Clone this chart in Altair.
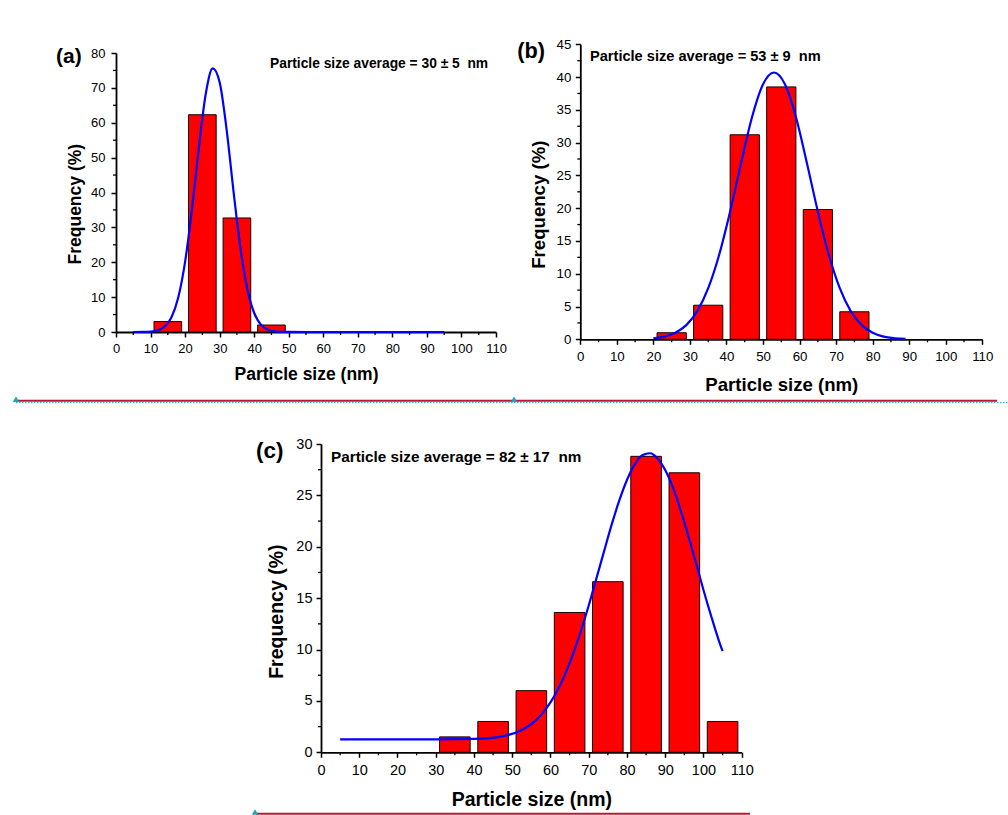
import altair as alt
import pandas as pd

FONT = "Liberation Sans"
W, H = 1008, 815

# ---------------- data ----------------
x_ticks = [0, 10, 20, 30, 40, 50, 60, 70, 80, 90, 100, 110]

# Panel (a)
a_centers = [15, 25, 35, 45]
a_freq = [3.0, 62.3, 32.7, 2.0]
a_fit_x = [5, 8, 10, 12, 14, 16, 18, 20, 22, 24, 26, 28, 30, 32, 34, 36, 38, 40, 42, 44, 46, 48, 50, 60, 70, 80, 95]
a_fit_y = [0.0, 0.03, 0.12, 0.46, 1.5, 4.1, 9.8, 20.1, 35.3, 53.0, 68.4, 75.6, 71.6, 58.2, 40.5, 24.2,
           12.4, 5.45, 2.05, 0.66, 0.18, 0.05, 0.01, 0.0, 0.0, 0.0, 0.0]
a_y_ticks = [0, 10, 20, 30, 40, 50, 60, 70, 80]

# Panel (b)
b_centers = [25, 35, 45, 55, 65, 75]
b_freq = [1.0, 5.2, 31.2, 38.5, 19.8, 4.2]
b_fit_x = [20, 23, 26, 29, 32, 35, 38, 41, 44, 47, 50, 53, 56, 59, 62, 65, 68, 71, 74, 77, 80, 83, 86, 89]
b_fit_y = [0.16, 0.41, 0.99, 2.16, 4.29, 7.8, 12.9, 19.5, 26.9, 33.9, 38.9, 40.7, 38.9, 33.9, 26.9, 19.5,
           12.9, 7.8, 4.29, 2.16, 0.99, 0.41, 0.16, 0.05]
b_y_ticks = [0, 5, 10, 15, 20, 25, 30, 35, 40, 45]

# Panel (c)
c_centers = [35, 45, 55, 65, 75, 85, 95, 105]
c_freq = [1.5, 3.0, 6.0, 13.6, 16.6, 28.8, 27.2, 3.0]
c_fit_x = [5, 10, 20, 30, 40, 44, 48, 52, 56, 58, 60, 62, 64, 66, 68, 70, 72, 74, 76, 78, 80, 82, 84,
           86, 88, 90, 92, 94, 96, 98, 100, 102, 104, 105]
c_fit_y = [1.26, 1.26, 1.26, 1.26, 1.30, 1.38, 1.60, 2.08, 3.06, 3.84, 4.85, 6.15, 7.75, 9.65, 11.85,
           14.28, 16.9, 19.55, 22.15, 24.51, 26.5, 28.0, 28.9, 29.1, 28.6, 27.47, 25.8, 23.6, 21.1,
           18.5, 15.8, 13.28, 10.9, 9.85]
c_y_ticks = [0, 5, 10, 15, 20, 25, 30]

labels = ["(a)", "(b)", "(c)"]
notes = ["Particle size average = 30 \u00b1 5 \u00a0nm",
         "Particle size average = 53 \u00b1 9 \u00a0nm",
         "Particle size average = 82 \u00b1 17 \u00a0nm"]

BAR_HALF = 4


def one_row():
    return pd.DataFrame({"k": [0]})


def panel(centers, freq, fit_x, fit_y, y_ticks, box, s, xtitle_y, ytitle_xy, ylab_pad, xlab_pad):
    """box = (left, right, bottom, top) of the plot area in page pixels."""
    left, right, bottom, top = box
    bars = pd.DataFrame({"x0": [c - BAR_HALF for c in centers],
                         "x1": [c + BAR_HALF for c in centers],
                         "f": freq,
                         "b": [0] * len(freq)})
    fit = pd.DataFrame({"x": fit_x, "y": fit_y})
    step_y = y_ticks[1] - y_ticks[0]
    x_minor = [v + 5 for v in x_ticks[:-1]]
    y_minor = [v + step_y / 2 for v in y_ticks[:-1]]

    xs = alt.Scale(domain=[0, 110], nice=False, zero=False, range=[left, right])
    ys = alt.Scale(domain=[0, y_ticks[-1]], nice=False, zero=False, range=[bottom, top])

    tick_fs, title_fs = s
    xaxis = alt.Axis(values=x_ticks, title="Particle size (nm)", grid=False, orient="bottom",
                     offset=bottom - H,
                     labelFont=FONT, labelFontSize=tick_fs, labelColor="black",
                     labelFlush=False, labelOverlap=False, labelPadding=xlab_pad,
                     tickSize=5, tickWidth=1.5, tickColor="black",
                     domainColor="black", domainWidth=1.8,
                     titleFont=FONT, titleFontSize=title_fs, titleFontWeight="bold",
                     titleColor="black", titleY=xtitle_y, titleBaseline="middle")
    yaxis = alt.Axis(values=y_ticks, title="Frequency (%)", grid=False, orient="left",
                     offset=-left,
                     labelFont=FONT, labelFontSize=tick_fs, labelColor="black",
                     labelFlush=False, labelOverlap=False, labelPadding=ylab_pad,
                     tickSize=5, tickWidth=1.5, tickColor="black",
                     domainColor="black", domainWidth=1.8,
                     titleFont=FONT, titleFontSize=title_fs, titleFontWeight="bold",
                     titleColor="black", titleX=ytitle_xy[0], titleY=ytitle_xy[1],
                     titleBaseline="middle")

    bar_layer = alt.Chart(bars).mark_bar(fill="#FF0000", stroke="#1a0000", strokeWidth=1).encode(
        x=alt.X("x0:Q", scale=xs, axis=xaxis),
        x2="x1:Q",
        y=alt.Y("f:Q", scale=ys, axis=yaxis),
        y2="b:Q",
    )
    line_layer = alt.Chart(fit).mark_line(color="#0000FF", strokeWidth=2.2, interpolate="monotone").encode(
        x=alt.X("x:Q", scale=xs, axis=xaxis),
        y=alt.Y("y:Q", scale=ys, axis=yaxis),
    )
    mx = alt.Chart(pd.DataFrame({"m": x_minor})).mark_rule(color="black", strokeWidth=1.3).encode(
        x=alt.X("m:Q", scale=xs, axis=xaxis),
        y=alt.value(bottom),
        y2=alt.value(bottom + 3),
    )
    my = alt.Chart(pd.DataFrame({"m": y_minor})).mark_rule(color="black", strokeWidth=1.3).encode(
        y=alt.Y("m:Q", scale=ys, axis=yaxis),
        x=alt.value(left),
        x2=alt.value(left - 3),
    )
    return alt.layer(bar_layer, line_layer, mx, my)


def text_layer(t, x, y, size):
    return alt.Chart(pd.DataFrame({"t": [t]})).mark_text(
        align="left", baseline="middle", font=FONT, fontSize=size, fontWeight="bold", color="black"
    ).encode(x=alt.value(x), y=alt.value(y), text="t:N")


panel_a = panel(a_centers, a_freq, a_fit_x, a_fit_y, a_y_ticks, (116, 496, 332, 53),
                (13, 17.5), 42.3, (-41, 203.7), 6, 5)
panel_b = panel(b_centers, b_freq, b_fit_x, b_fit_y, b_y_ticks, (580.3, 982.3, 339.3, 44.3),
                (13.3, 18.6), 44.7, (-42, 204.2), 4.5, 5.5)
panel_c = panel(c_centers, c_freq, c_fit_x, c_fit_y, c_y_ticks, (321, 741.7, 752.3, 444),
                (14.5, 19.5), 47, (-45, 611.2), 4, 6)

texts = [
    text_layer(labels[0], 56, 56.7, 21),
    text_layer(notes[0], 270, 64.3, 13.8),
    text_layer(labels[1], 517.3, 50.7, 21.7),
    text_layer(notes[1], 590, 56.7, 14.6),
    text_layer(labels[2], 256, 450.7, 22.4),
    text_layer(notes[2], 331, 456.7, 15.3),
]

# page decorations (document anchor lines under the figures)
red1 = alt.Chart(one_row()).mark_rule(color="#C01438", strokeWidth=2).encode(
    x=alt.value(16), x2=alt.value(997), y=alt.value(400.7))
teal1 = alt.Chart(one_row()).mark_rule(color="#3CB4C8", strokeWidth=1.2, strokeDash=[1.5, 1.5]).encode(
    x=alt.value(16), x2=alt.value(1008), y=alt.value(402.6))
red2 = alt.Chart(one_row()).mark_rule(color="#C01438", strokeWidth=2).encode(
    x=alt.value(256), x2=alt.value(750), y=alt.value(813.7))


def tri(x, y):
    return alt.Chart(one_row()).mark_point(
        shape="triangle-up", filled=True, size=42, color="#1FA3B5", opacity=1
    ).encode(x=alt.value(x), y=alt.value(y))


decor = [red1, teal1, red2, tri(16, 399.3), tri(514, 399.3), tri(255, 812.0)]

chart = alt.layer(panel_a, panel_b, panel_c, *texts, *decor).resolve_scale(
    x="independent", y="independent"
).resolve_axis(
    x="independent", y="independent"
).properties(
    width=W, height=H,
    autosize=alt.AutoSizeParams(type="none"),
    padding=0,
    background="white",
).configure_view(stroke=None)

chart.save("out.html", embed_options={"renderer": "svg", "actions": False})
